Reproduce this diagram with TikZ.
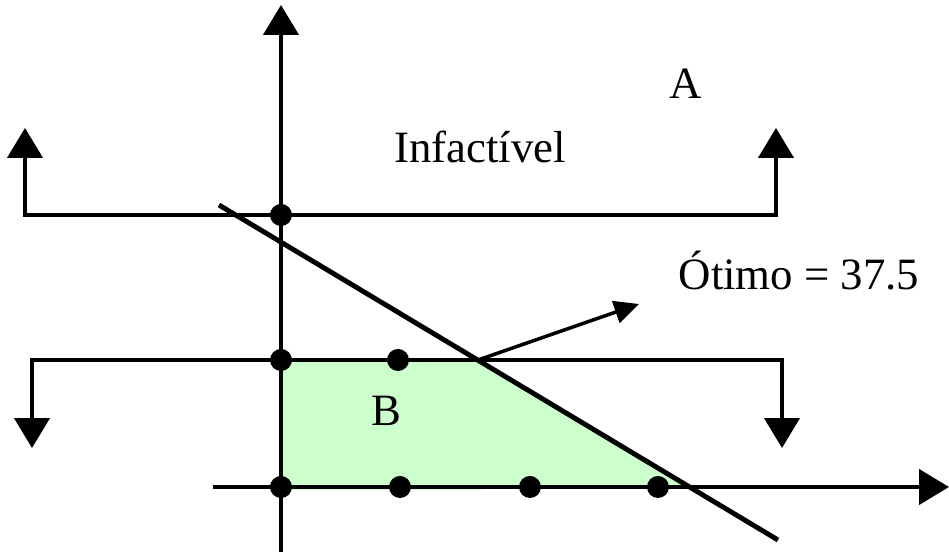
\documentclass[tikz,border=0pt]{standalone}
\usepackage{fontspec}
\setmainfont{Liberation Serif}
\usetikzlibrary{arrows.meta}
\definecolor{regiao}{RGB}{204,255,204}
\begin{document}
\begin{tikzpicture}[>={Triangle[width=20pt,length=17pt]},font=\fontsize{25.5}{30}\selectfont,line width=2pt]
	\useasboundingbox (-5.62,-1.3) rectangle (13.36,9.74);
	\coordinate (O) at (0,0);
	\coordinate (P1) at (3.94,2.54);
	\coordinate (P2) at (8.18,0);
	\coordinate (opt) at (7.16,3.66);
	\fill[regiao] (0,-.06) rectangle (4.02,0) (O)--(0,2.54)--(P1)--(P2)--cycle;
	\draw[->] (0,-1.3)--(0,9.64);
	\draw[->] (-1.36,0)--(13.36,0);
	\draw[<->] (-5.12,7.18)--++(0,-1.74)-|(9.9,7.18);
	\draw[<->] (-4.98,.78)--++(0,1.76)-|(10.02,.78);
	\draw[line width=2.8pt] (-1.24,5.64)--(9.94,-1.06);
	\draw[->,>={Triangle[width=13pt,length=14pt]}] (P1)--(opt);
	\foreach \p in {(0,5.44),(0,2.54),(2.34,2.54),(O),(2.38,0),(4.98,0),(7.54,0)}
		\fill \p circle(.22);
	\node[anchor=base] (A) at (8.1,7.76) {A};
	\node[anchor=base] (inf) at (3.98,6.48) {Infactível};
	\node[anchor=base] (otimo) at (10.36,3.94) {Ótimo = 37.5};
	\node[anchor=base] (B) at (2.11,1.22) {B};
\end{tikzpicture}
\end{document}
